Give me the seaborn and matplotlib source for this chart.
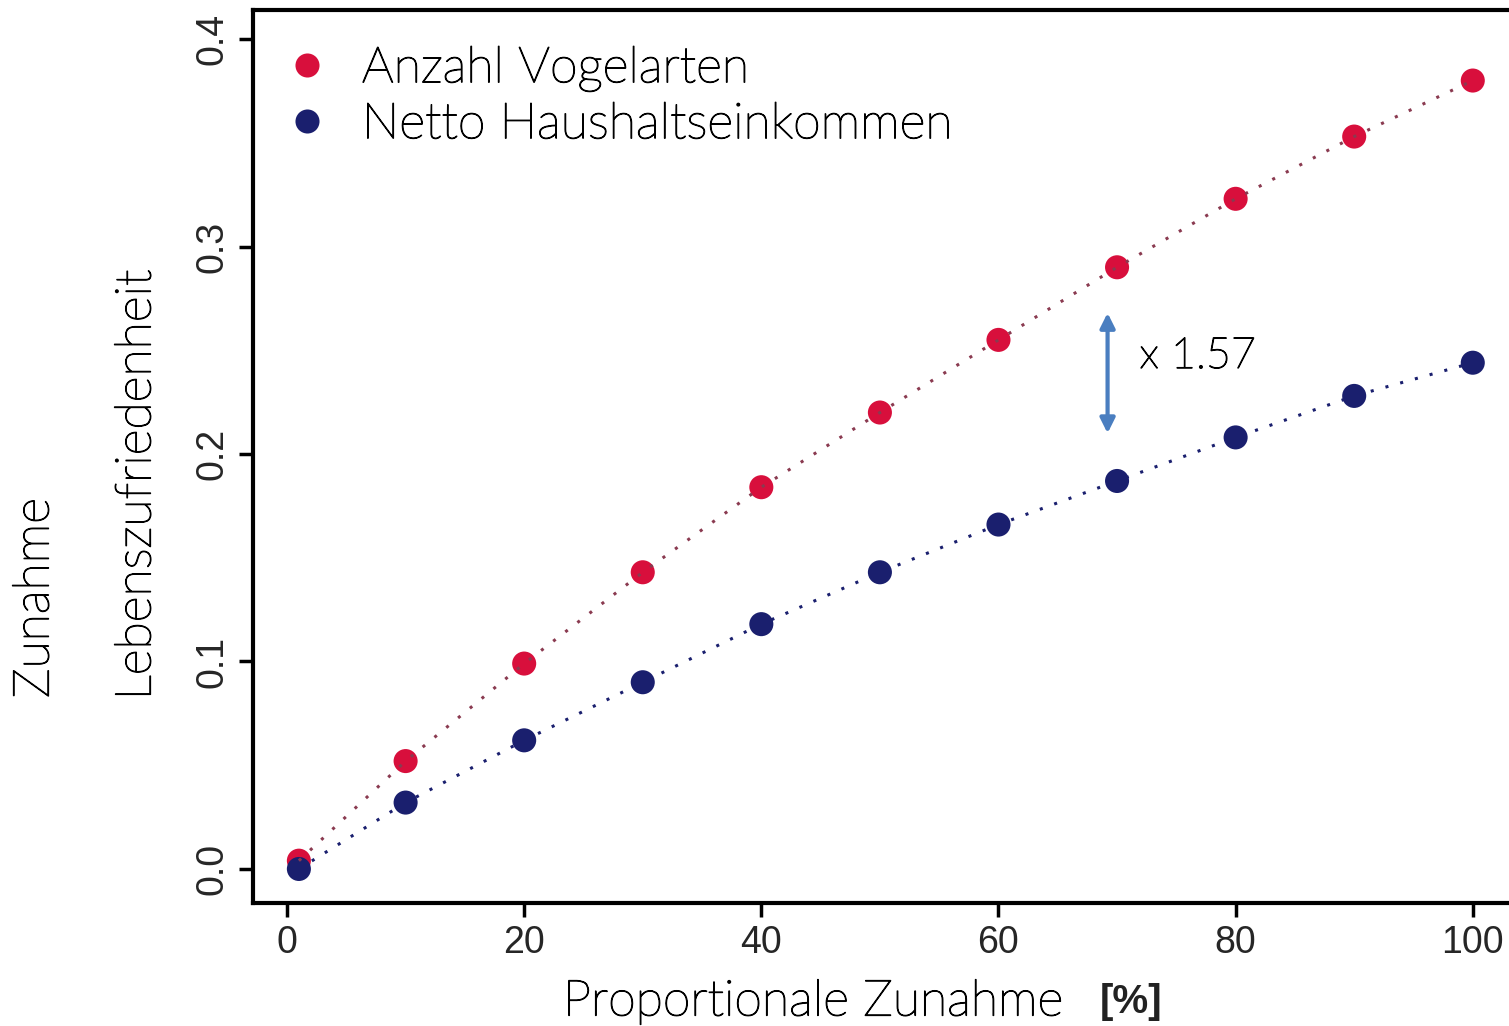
import numpy as np
import pandas as pd
import seaborn as sns
import matplotlib.pyplot as plt
import matplotlib.patheffects as pe

# Werte
zunahme = [1, 10, 20, 30, 40, 50, 60, 70, 80, 90, 100]
vogelarten = [0.004, 0.052, 0.099, 0.143, 0.184, 0.220, 0.255, 0.290, 0.323, 0.353, 0.380]
einkommen = [0.000, 0.032, 0.062, 0.090, 0.118, 0.143, 0.166, 0.187, 0.208, 0.228, 0.244]
reihen = ["Anzahl Vogelarten", "Netto Haushaltseinkommen"]
farben = ["#D80F3C", "#1A1F6E"]
linienfarben = ["#8A3A50", "#1A1F6E"]

df = pd.DataFrame({
    "x": zunahme * 2,
    "y": vogelarten + einkommen,
    "reihe": [reihen[0]] * len(zunahme) + [reihen[1]] * len(zunahme),
})

sns.set_style("white")
plt.rcParams["font.family"] = ["Liberation Sans", "DejaVu Sans"]
duenn = ["Lato", "DejaVu Sans"]
# Lato Light etwas kraeftiger machen
strich = [pe.withStroke(linewidth=0.9, foreground="black")]

fig = plt.figure(figsize=(15.09, 10.26), dpi=100)
ax = fig.add_axes([253 / 1509, 123 / 1026, 1.02 - 253 / 1509, 893 / 1026])

sns.lineplot(data=df, x="x", y="y", hue="reihe", palette=linienfarben,
             linestyle=(0, (1, 4)), linewidth=2.2, legend=False, ax=ax)
sns.scatterplot(data=df, x="x", y="y", hue="reihe", palette=farben,
                s=300, edgecolor="none", ax=ax)

ax.set_xlim(-2.87, 105.6)
ax.set_ylim(-0.0164, 0.414)
ax.set_xticks([0, 20, 40, 60, 80, 100])
ax.set_yticks([0.0, 0.1, 0.2, 0.3, 0.4])
ax.set_yticklabels(["0.0", "0.1", "0.2", "0.3", "0.4"], rotation=90, va="center")
ax.tick_params(axis="both", labelsize=27, length=10, width=2.5, color="black",
               direction="out", left=True, bottom=True, pad=6)
for s in ax.spines.values():
    s.set_linewidth(3)
    s.set_color("black")

ax.set_xlabel("")
ax.set_ylabel("")
fig.text(563 / 1509, 1 - 1002 / 1026, "Proportionale Zunahme", fontsize=36,
         family=duenn, fontweight="light", va="center", ha="left", color="black",
         path_effects=strich)
fig.text(1100 / 1509, 1 - 1002 / 1026, "[%]", fontsize=29, fontweight="bold",
         va="center", ha="left", color="#222222")
fig.text(137 / 1509, 1 - 485 / 1026, "Lebenszufriedenheit", fontsize=36,
         family=duenn, fontweight="light", rotation=90, va="center", ha="center",
         color="black", path_effects=strich)
fig.text(35 / 1509, 1 - 598 / 1026, "Zunahme", fontsize=36,
         family=duenn, fontweight="light", rotation=90, va="center", ha="center",
         color="black", path_effects=strich)

# Faktor zwischen den Kurven
ax.annotate("", xy=(69.2, 0.210), xytext=(69.2, 0.268),
            arrowprops=dict(arrowstyle="<|-|>", color="#4A7EC0", lw=3,
                            mutation_scale=22, shrinkA=0, shrinkB=0))
ax.text(71.9, 0.247, "x 1.57", fontsize=31, family=duenn, fontweight="light",
        va="center", ha="left", color="black", path_effects=strich)

leg = ax.legend(loc="upper left", bbox_to_anchor=(0.003, 0.993), frameon=False,
                fontsize=36, handlelength=0.8, handletextpad=0.7,
                labelspacing=0.22, markerscale=1.0, borderaxespad=0.2)
for t in leg.get_texts():
    t.set_family(duenn)
    t.set_fontweight("light")
    t.set_color("black")
    t.set_path_effects(strich)

fig.savefig("out.png", dpi=100)
